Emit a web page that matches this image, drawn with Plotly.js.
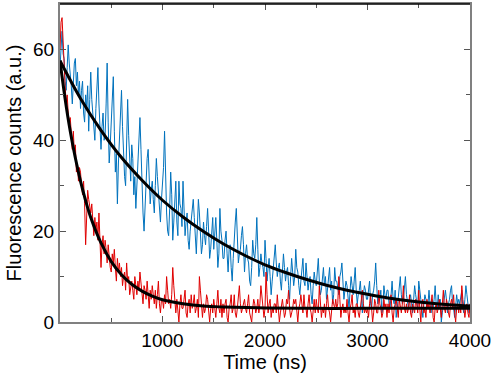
<!DOCTYPE html>
<html>
<head>
<meta charset="utf-8">
<script src="https://cdn.plot.ly/plotly-3.0.1.min.js"></script>
<style>body{margin:0;background:#fff}</style>
</head>
<body>
<div id="chart" style="width:498px;height:373px"></div>
<script>
// decay traces, sampled every 10 ns from t = 0 (one row = 100 ns)
const t0 = 0, dt = 10;

const blueCounts = [
  56, 60, 64, 59, 58, 53, 51, 56, 61, 57,
  55, 52, 48, 54, 57, 58, 52, 55, 50, 53,
  47, 51, 53, 46, 44, 50, 47, 52, 42, 49,
  55, 49, 46, 42, 40, 47, 51, 56, 48, 44,
  38, 43, 46, 40, 41, 48, 57, 44, 35, 39,
  44, 50, 54, 42, 33, 37, 26, 35, 42, 45,
  51, 43, 37, 32, 30, 38, 49, 41, 34, 31,
  39, 36, 28, 32, 25, 30, 36, 41, 45, 38,
  29, 24, 20, 27, 33, 36, 38, 31, 26, 29,
  31, 27, 24, 30, 36, 32, 28, 25, 22, 27,
  30, 34, 42, 31, 24, 20, 19, 25, 33, 28,
  18, 22, 27, 31, 22, 19, 31, 26, 25, 21,
  31, 24, 19, 22, 24, 18, 16, 20, 22, 25,
  27, 23, 18, 15, 21, 27, 24, 19, 15, 17,
  22, 19, 17, 21, 25, 20, 14, 16, 20, 23,
  16, 19, 23, 18, 12, 15, 25, 20, 18, 14,
  14, 18, 20, 15, 11, 16, 17, 12, 9, 14,
  19, 22, 25, 18, 13, 15, 16, 19, 21, 17,
  11, 15, 17, 14, 13, 9, 8, 12, 18, 15,
  14, 17, 23, 16, 10, 12, 15, 13, 12, 10,
  18, 14, 9, 12, 14, 10, 6, 9, 12, 14,
  17, 13, 10, 12, 13, 9, 7, 11, 15, 12,
  9, 11, 12, 8, 5, 10, 14, 11, 8, 10,
  16, 12, 11, 8, 6, 9, 12, 14, 9, 8,
  13, 10, 7, 9, 10, 6, 4, 8, 11, 9,
  8, 11, 14, 9, 6, 7, 9, 12, 8, 10,
  5, 8, 10, 12, 7, 9, 4, 6, 12, 9,
  9, 7, 6, 10, 11, 13, 8, 5, 7, 9,
  8, 5, 3, 7, 10, 8, 6, 9, 12, 7,
  4, 6, 7, 9, 5, 2, 6, 8, 7, 5,
  5, 7, 9, 4, 3, 6, 7, 9, 13, 8,
  4, 6, 5, 7, 2, 3, 8, 6, 5, 7,
  7, 4, 3, 6, 9, 5, 4, 7, 1, 3,
  6, 8, 10, 6, 4, 5, 7, 10, 6, 4,
  3, 5, 6, 4, 2, 5, 8, 6, 4, 3,
  9, 6, 5, 3, 1, 4, 6, 5, 3, 4,
  7, 4, 2, 5, 3, 5, 8, 4, 3, 6,
  3, 5, 0, 2, 4, 6, 7, 5, 2, 4,
  5, 7, 8, 4, 3, 1, 3, 6, 4, 5,
  4, 6, 7, 3, 2, 5, 8, 6, 3, 2,
  4
];

const redCounts = [
  60, 66, 67, 61, 55, 52, 48, 50, 46, 44,
  45, 40, 38, 42, 37, 39, 33, 35, 31, 34,
  33, 30, 28, 31, 26, 17, 22, 29, 27, 25,
  24, 26, 21, 19, 23, 20, 22, 18, 24, 16,
  12, 17, 19, 15, 18, 16, 13, 17, 14, 12,
  11, 15, 13, 16, 12, 9, 14, 11, 13, 10,
  12, 8, 10, 11, 7, 13, 9, 10, 6, 8,
  9, 7, 5, 10, 8, 6, 9, 7, 11, 8,
  6, 4, 8, 7, 5, 9, 6, 3, 7, 5,
  8, 5, 4, 7, 3, 6, 9, 4, 2, 5,
  5, 3, 6, 4, 10, 7, 4, 5, 3, 6,
  12, 8, 4, 2, 5, 3, 0, 4, 6, 3,
  3, 5, 7, 2, 1, 4, 5, 2, 6, 3,
  4, 6, 2, 3, 5, 1, 10, 7, 3, 1,
  4, 2, 3, 6, 5, 2, 0, 3, 4, 2,
  5, 3, 1, 4, 7, 3, 2, 5, 1, 4,
  2, 4, 5, 1, 0, 3, 4, 6, 2, 3,
  6, 2, 1, 3, 5, 8, 4, 2, 3, 4,
  5, 3, 2, 4, 6, 2, 1, 0, 3, 5,
  4, 2, 3, 5, 2, 4, 8, 5, 2, 1,
  3, 11, 6, 2, 4, 5, 1, 3, 2, 4,
  4, 2, 6, 3, 0, 2, 4, 5, 3, 1,
  2, 5, 4, 7, 3, 1, 2, 3, 5, 4,
  5, 2, 0, 3, 4, 6, 3, 2, 6, 3,
  3, 1, 4, 6, 3, 2, 0, 3, 5, 2,
  5, 3, 2, 8, 4, 1, 3, 2, 4, 1,
  4, 6, 3, 2, 0, 2, 5, 4, 3, 5,
  3, 4, 10, 5, 1, 3, 4, 2, 3, 2,
  5, 2, 0, 3, 4, 6, 2, 3, 1, 4,
  4, 2, 1, 3, 5, 7, 4, 2, 3, 2,
  3, 1, 4, 6, 3, 0, 2, 5, 4, 2,
  2, 7, 4, 3, 1, 2, 5, 3, 4, 1,
  4, 2, 5, 6, 2, 0, 3, 4, 5, 3,
  1, 5, 3, 2, 4, 8, 3, 2, 4, 2,
  3, 6, 2, 1, 4, 3, 2, 5, 4, 2,
  7, 3, 0, 4, 5, 2, 3, 1, 5, 3,
  4, 2, 5, 6, 1, 0, 3, 4, 2, 3,
  5, 3, 1, 4, 7, 3, 2, 5, 4, 2,
  1, 4, 5, 3, 6, 2, 0, 3, 4, 2,
  4, 2, 8, 5, 3, 1, 3, 4, 2, 1,
  4
];

// fitted decay curves
const blueFitT = [0, 200, 400, 600, 800, 1000, 1200, 1400, 1600, 1800, 2000,
                  2200, 2400, 2600, 2800, 3000, 3200, 3400, 3600, 3800, 4000];
const blueFitY = [57.5, 49.2, 42.2, 36.2, 31.2, 26.8, 23.1, 19.9, 17.1, 14.7, 12.6,
                  10.9, 9.4, 8.1, 7.0, 6.1, 5.3, 4.7, 4.2, 3.8, 3.5];

const redFitT = [0, 50, 100, 150, 200, 250, 300, 400, 500, 600, 700, 800, 900,
                 1000, 1200, 1400, 1600, 2000, 2500, 3000, 4000];
const redFitY = [57.5, 49.1, 42.0, 36.1, 31.0, 26.7, 23.0, 17.4, 13.3, 10.4, 8.3, 6.8, 5.7,
                 4.9, 4.0, 3.5, 3.3, 3.1, 3.0, 3.0, 3.0];

const xTicks = [1000, 2000, 3000, 4000];
const yTicks = [0, 20, 40, 60];

const font = {family: 'Liberation Sans, Arial, sans-serif', color: '#000'};

let traces = [
  {x0: t0, dx: dt, y: blueCounts, mode: 'lines', line: {color: '#0072BD', width: 1}},
  {x0: t0, dx: dt, y: redCounts, mode: 'lines', line: {color: '#E00000', width: 1}},
  {x: blueFitT, y: blueFitY, mode: 'lines', line: {color: '#000', width: 3, shape: 'spline'}},
  {x: redFitT, y: redFitY, mode: 'lines', line: {color: '#000', width: 3, shape: 'spline'}}
];

let axis = {
  showgrid: false, zeroline: false,
  showline: true, linecolor: '#808080', linewidth: 2,
  mirror: 'ticks', ticks: 'inside', ticklen: 6, tickwidth: 1, tickcolor: '#555',
  tickfont: Object.assign({size: 19}, font)
};

let layout = {
  width: 498, height: 373,
  margin: {l: 60, r: 28, t: 4, b: 51},
  paper_bgcolor: '#fff', plot_bgcolor: '#fff',
  showlegend: false,
  xaxis: Object.assign({}, axis, {
    range: [0, 4000], tickvals: xTicks,
    minor: {dtick: 500, tick0: 0, ticks: 'inside', ticklen: 4, tickcolor: '#555'},
    title: {text: 'Time (ns)', font: Object.assign({size: 20}, font), standoff: 2}
  }),
  yaxis: Object.assign({}, axis, {
    range: [0, 70], tickvals: yTicks,
    minor: {dtick: 10, tick0: 0, ticks: 'inside', ticklen: 4, tickcolor: '#555'},
    title: {text: 'Fluorescence counts (a.u.)', font: Object.assign({size: 20}, font), standoff: 6}
  }),
  shapes: [
    {type: 'line', xref: 'paper', yref: 'paper', x0: 0, x1: 1, y0: 1, y1: 1,
     line: {color: '#000', width: 1.5}}
  ]
};

Plotly.newPlot('chart', traces, layout, {staticPlot: true});
</script>
</body>
</html>
